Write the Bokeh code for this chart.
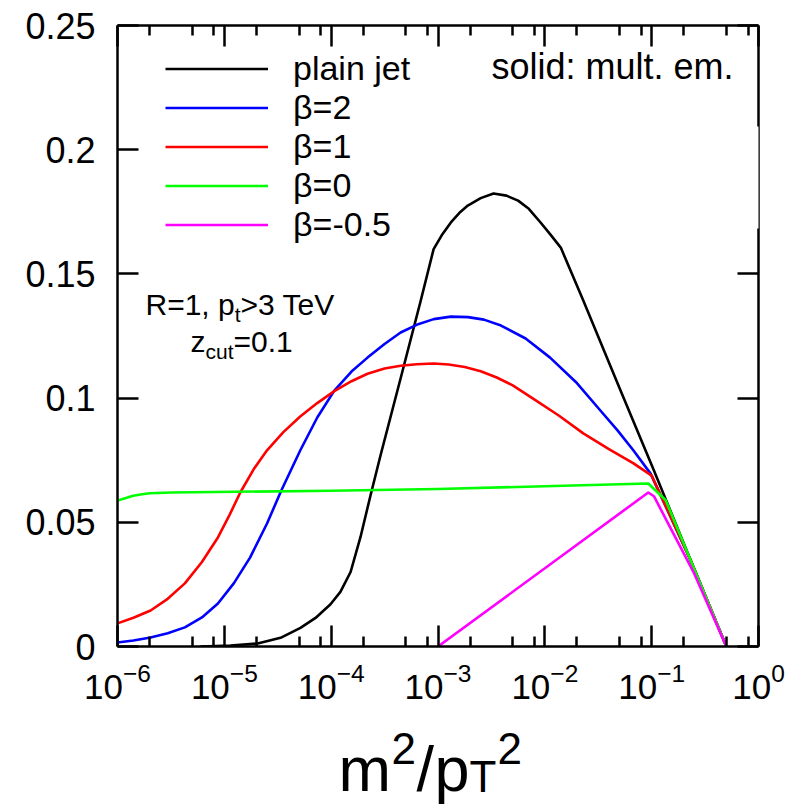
from bokeh.plotting import figure
from bokeh.layouts import column
from bokeh.models import (Range1d, FixedTicker, LogAxis, LinearAxis, Legend, LegendItem,
                          Label, BoxAnnotation, CustomJSTickFormatter)
from bokeh.embed import file_html
from bokeh.resources import INLINE

FONT = "Liberation Sans"

# ---- data ----
plain_x = [5.98e-6, 1.14e-5, 2.05e-5, 3.36e-5, 5.16e-5, 7.14e-5, 9.86e-5, 1.22e-4, 1.52e-4,
           1.88e-4, 2.34e-4, 2.90e-4, 3.60e-4, 4.47e-4, 5.54e-4, 6.87e-4, 9.10e-4,
           1.1e-3, 1.32e-3, 1.58e-3, 1.9e-3, 2.51e-3, 3.31e-3, 4.37e-3, 5.62e-3,
           7.08e-3, 9.12e-3, 1.12e-2, 1.41e-2, 2.29e-2, 5.01e-2, 1.05e-1, 2.32e-1, 5.0e-1]
plain_y = [0.0, 0.0004, 0.0012, 0.0035, 0.0075, 0.0115, 0.0170, 0.0220, 0.0300,
           0.0440, 0.0610, 0.0770, 0.0925, 0.1080, 0.1235, 0.1390, 0.1600,
           0.1660, 0.1707, 0.1745, 0.1775, 0.1805, 0.1824, 0.1815, 0.1795,
           0.1762, 0.1707, 0.1660, 0.1606, 0.1393, 0.1040, 0.0709, 0.0346, 0.0]

b2_x = [1.0e-6, 1.41e-6, 2.04e-6, 2.95e-6, 4.27e-6, 6.17e-6, 8.71e-6, 1.23e-5, 1.74e-5,
        2.51e-5, 3.39e-5, 5.13e-5, 7.41e-5, 1.07e-4, 1.55e-4, 2.19e-4, 3.16e-4, 4.47e-4,
        6.31e-4, 9.12e-4, 1.32e-3, 1.91e-3, 2.69e-3, 3.89e-3, 6.61e-3, 1.12e-2, 1.95e-2,
        3.31e-2, 4.79e-2, 6.76e-2, 9.77e-2, 2.32e-1, 5.0e-1]
b2_y = [0.0016, 0.0024, 0.0036, 0.0053, 0.0077, 0.0117, 0.0173, 0.0255, 0.0358,
        0.0495, 0.0625, 0.0789, 0.0922, 0.1030, 0.1107, 0.1163, 0.1218, 0.1264,
        0.1295, 0.1318, 0.1328, 0.1326, 0.1316, 0.1292, 0.1240, 0.1163, 0.1065,
        0.0950, 0.0870, 0.0789, 0.0696, 0.0346, 0.0]

b1_x = [1.0e-6, 1.41e-6, 2.04e-6, 2.95e-6, 4.27e-6, 6.17e-6, 8.71e-6, 1.12e-5, 1.41e-5,
        1.91e-5, 2.51e-5, 3.55e-5, 5.13e-5, 7.41e-5, 1.07e-4, 1.55e-4, 2.19e-4, 3.16e-4,
        4.47e-4, 6.31e-4, 9.12e-4, 1.26e-3, 1.78e-3, 2.51e-3, 3.55e-3, 5.01e-3, 7.76e-3,
        1.35e-2, 2.29e-2, 3.98e-2, 6.76e-2, 1.0e-1, 2.32e-1, 5.0e-1]
b1_y = [0.0093, 0.0116, 0.0145, 0.0192, 0.0254, 0.0340, 0.0439, 0.0530, 0.0620,
        0.0718, 0.0790, 0.0862, 0.0926, 0.0980, 0.1028, 0.1068, 0.1098, 0.1119,
        0.1130, 0.1136, 0.1139, 0.1135, 0.1125, 0.1108, 0.1083, 0.1051, 0.0998,
        0.0930, 0.0858, 0.0795, 0.0737, 0.0688, 0.0346, 0.0]

b0_x = [1.0e-6, 1.2e-6, 1.4e-6, 1.7e-6, 2.0e-6, 3.2e-6, 1.0e-4, 1.0e-3, 1.0e-2, 9.3e-2,
        1.35e-1, 2.32e-1, 5.0e-1]
b0_y = [0.0588, 0.0598, 0.0607, 0.0613, 0.0617, 0.0620, 0.0627, 0.0634, 0.0645, 0.0656,
        0.0590, 0.0346, 0.0]

bm05_x = [1.0e-3, 9.3e-2, 1.05e-1, 2.5e-1, 5.0e-1]
bm05_y = [0.0, 0.0620, 0.0605, 0.0294, 0.0]

series_labels = ["plain jet", "β=2", "β=1", "β=0", "β=-0.5"]
series_colors = ["#000000", "#0000ff", "#ff0000", "#00ff00", "#ff00ff"]

x_major = [1e-6, 1e-5, 1e-4, 1e-3, 1e-2, 1e-1, 1e0]
x_minor = [m * d for d in x_major[:-1] for m in (2, 5, 8)]
y_major = [0, 0.05, 0.1, 0.15, 0.2, 0.25]
y_labels = ["0", "0.05", "0.1", "0.15", "0.2", "0.25"]

# ---- main figure ----
p = figure(width=791, height=720, x_axis_type="log",
           x_range=Range1d(1e-6, 1), y_range=Range1d(0, 0.25),
           output_backend="svg", toolbar_location=None,
           min_border_left=117, min_border_right=33, min_border_top=25, min_border_bottom=74)
p.outline_line_color = None
p.grid.visible = False
p.background_fill_color = "white"
p.border_fill_color = "white"

xticker = FixedTicker(ticks=x_major, minor_ticks=x_minor)
yticker = FixedTicker(ticks=y_major, minor_ticks=[])


def style(ax):
    ax.axis_line_width = 2.5
    ax.axis_line_color = "black"
    ax.major_tick_in = 21
    ax.major_tick_out = 0
    ax.major_tick_line_width = 2.5
    ax.minor_tick_in = 10
    ax.minor_tick_out = 0
    ax.minor_tick_line_width = 2.5


xa = p.xaxis[0]
xa.ticker = xticker
style(xa)
xa.major_label_text_font = FONT
xa.major_label_text_font_size = "35px"
xa.major_label_text_color = "black"
xa.major_label_standoff = 16

ya = p.yaxis[0]
ya.ticker = yticker
style(ya)
ya.major_label_overrides = {v: s for v, s in zip(y_major, y_labels)}
ya.major_label_text_font = FONT
ya.major_label_text_font_size = "36px"
ya.major_label_text_color = "black"
ya.major_label_standoff = 22

top = LogAxis(ticker=xticker, formatter=CustomJSTickFormatter(code="return ''"),
              major_label_text_font_size="0px", major_label_standoff=0)
style(top)
p.add_layout(top, "above")

right = LinearAxis(ticker=yticker, formatter=CustomJSTickFormatter(code="return ''"),
                   major_label_text_font_size="0px", major_label_standoff=0)
style(right)
p.add_layout(right, "right")

# gap in the right frame edge
p.add_layout(BoxAnnotation(left=0.6, right=3.0, bottom=0.1683, top=0.2093,
                           fill_color="white", fill_alpha=1.0, line_color=None,
                           level="overlay"))

# ---- curves ----
xs = [plain_x, b2_x, b1_x, b0_x, bm05_x]
ys = [plain_y, b2_y, b1_y, b0_y, bm05_y]
renderers = []
for x, y, c in zip(xs, ys, series_colors):
    renderers.append(p.line(x=x, y=y, line_color=c, line_width=2.6, line_join="round"))

legend = Legend(items=[LegendItem(label=l, renderers=[r]) for l, r in zip(series_labels, renderers)],
                location=(48, 402), glyph_width=103, glyph_height=39, label_height=39,
                spacing=0, padding=0, margin=0, label_standoff=25,
                border_line_color=None, background_fill_alpha=0.0,
                label_text_font=FONT, label_text_font_size="34px", label_text_color="black")
p.add_layout(legend)


def lab(fig, x, y, text, size, align="left"):
    # x: pixels from the frame's left edge, y: wanted baseline in pixels above the
    # frame's bottom edge (the label is drawn about 0.21*size + 5 px below its y)
    y_box = y + (0.21 * size + 5)
    fig.add_layout(Label(x=x, y=y_box, x_units="screen", y_units="screen", text=text,
                         text_font=FONT, text_font_size=f"{size}px", text_color="black",
                         text_align=align, text_baseline="alphabetic"))


# frame of p: left 117, bottom 646 (page pixels)
lab(p, 616, 646 - 79, "solid: mult. em.", 36, "right")
# R=1, p_t>3 TeV
lab(p, 28, 646 - 315, "R=1, p", 30)
lab(p, 117.2, 646 - 323, "t", 21)
lab(p, 123.0, 646 - 315, ">3 TeV", 30)
# z_cut=0.1
lab(p, 73, 646 - 352, "z", 30)
lab(p, 88, 646 - 360, "cut", 21)
lab(p, 116, 646 - 352, "=0.1", 30)

# ---- strip below for the x axis title m^2/p_T^2 ----
# its frame is aligned with p's frame: left 117, bottom 806 (page pixels)
t = figure(width=791, height=86, x_range=Range1d(0, 1), y_range=Range1d(0, 1),
           output_backend="svg", toolbar_location=None, title=None,
           x_axis_location=None, y_axis_location=None, min_border=0)
t.outline_line_color = None
t.grid.visible = False
t.background_fill_color = "white"
t.border_fill_color = "white"

lab(t, 338 - 117, 806 - 787, "m", 63)
lab(t, 391 - 117, 806 - 762, "2", 44)
lab(t, 416 - 117, 806 - 787, "/", 63)
lab(t, 434 - 117, 806 - 787, "p", 63)
lab(t, 469 - 117, 806 - 790, "T", 44)
lab(t, 497 - 117, 806 - 762, "2", 44)

layout = column(p, t, spacing=0)
open("out.html", "w").write(file_html(layout, INLINE))
